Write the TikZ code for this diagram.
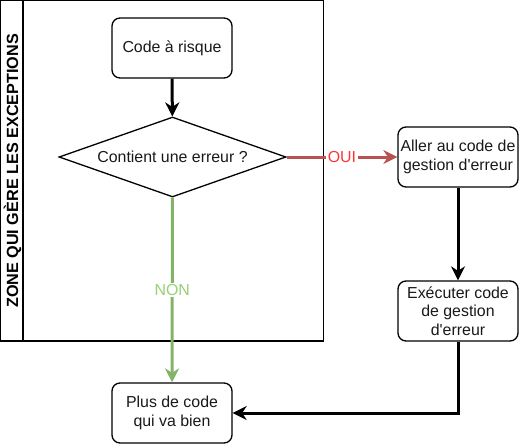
\documentclass[tikz,border=0pt]{standalone}
\usepackage{fontspec}
\newfontfamily\lanefont{Liberation Sans}
\usetikzlibrary{arrows.meta, shapes.geometric}
\definecolor{OuiRed}{HTML}{B85450}
\definecolor{OuiText}{HTML}{FF3333}
\definecolor{NonGreen}{HTML}{82B366}
\definecolor{NonText}{HTML}{97D077}

\begin{document}
\begin{tikzpicture}[x=1pt, y=-1pt,
    every node/.style={font=\lanefont\fontsize{15.9}{18.5}\selectfont, text=black!90},
    box/.style={draw, rounded corners=8pt, line width=1.3pt, minimum width=120pt, minimum height=60pt, align=center, inner sep=1pt},
    flow/.style={line width=3pt, -{Stealth[length=14pt, width=14pt, inset=4.5pt]}},
    tag/.style={fill=white, inner sep=1.5pt}]
    \useasboundingbox (0,0) rectangle (519,445);

    % --- ZONE (swimlane) ---
    \draw[line width=1.3pt] (0.65,0.65) rectangle (323.5,341);
    \draw[line width=1.3pt] (23,0.65) -- (23,341);
    \node[rotate=90, font=\lanefont\bfseries\fontsize{16.2}{18.5}\selectfont, text=black] (lanetitle) at (12.5,171) {ZONE QUI GÈRE LES EXCEPTIONS};

    % --- Steps ---
    \node[box] (risk) at (172,48) {Code à risque};
    \node[draw, diamond, aspect=2.84, minimum width=227pt, minimum height=80pt, inner sep=0pt, line width=1.3pt] (test) at (172.5,157) {Contient une erreur ?};
    \node[box] (goto) at (458,157) {Aller au code de\\gestion d'erreur};
    \node[box] (exec) at (458,311) {Exécuter code\\de gestion\\d'erreur};
    \node[box] (fine) at (172,413) {Plus de code\\qui va bien};

    % --- Connectors ---
    \draw[flow] (risk) -- (test);
    \draw[flow, OuiRed] (test) -- node[tag, text=OuiText] (oui) {OUI} (goto);
    \draw[flow, NonGreen] (test) -- node[tag, text=NonText] (non) {NON} (fine);
    \draw[flow] (goto) -- (exec);
    \draw[flow] (exec.south) |- (fine.east);
\end{tikzpicture}
\end{document}
